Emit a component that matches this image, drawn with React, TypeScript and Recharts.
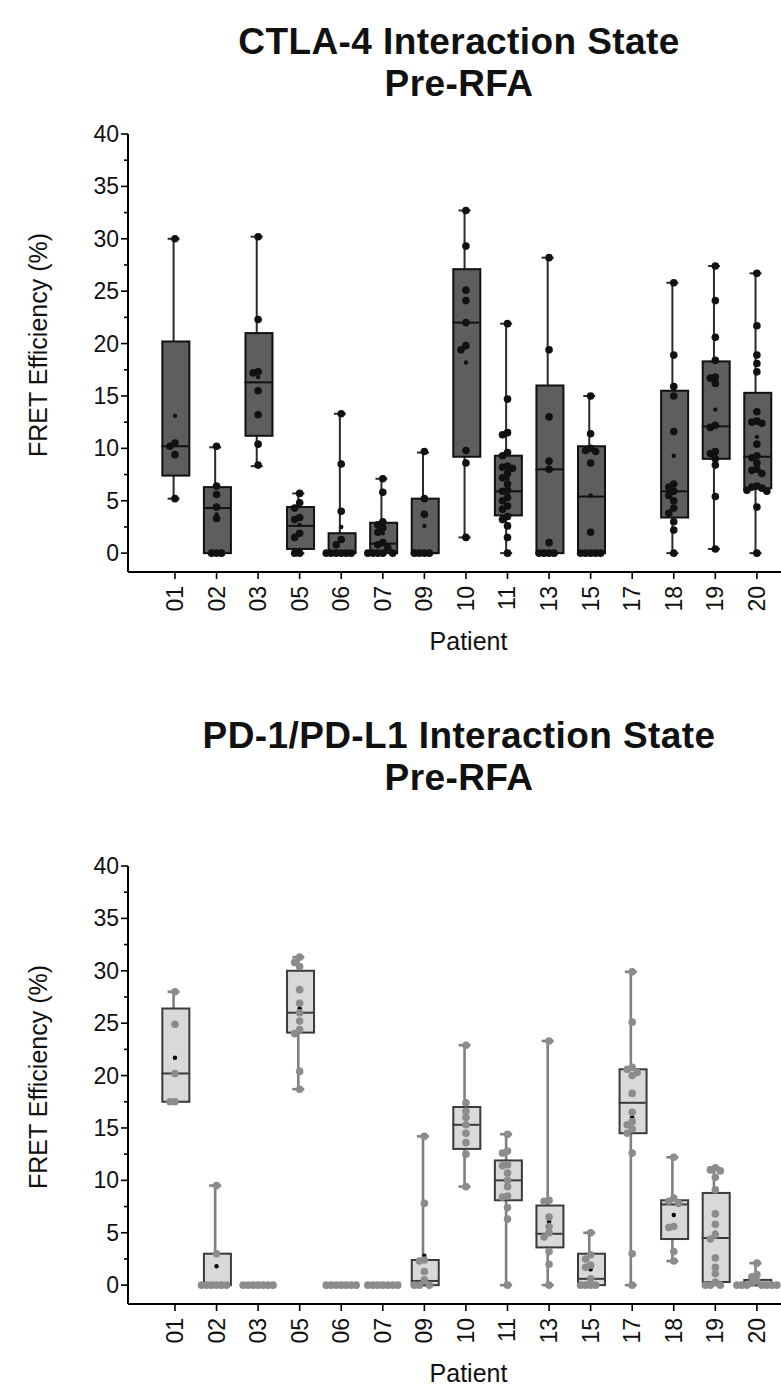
import { Bar, ComposedChart, Scatter, XAxis, YAxis } from 'recharts'

const patients = ['01', '02', '03', '05', '06', '07', '09', '10', '11', '13', '15', '17', '18', '19', '20']

// CTLA-4, pre-RFA (top panel)
const ctlaMin = [5.2, 0, 8.3, 0, 0, 0, 0, 1.5, 0, 0, 0, null, 0, 0.4, 0]
const ctlaQ1 = [7.4, 0, 11.2, 0.4, 0, 0, 0, 9.2, 3.6, 0, 0, null, 3.4, 9.0, 6.2]
const ctlaMedian = [10.2, 4.3, 16.3, 2.6, 0, 0.9, 0, 22.0, 5.9, 8.0, 5.4, null, 5.9, 12.1, 9.2]
const ctlaQ3 = [20.2, 6.3, 21.0, 4.4, 1.9, 2.9, 5.2, 27.1, 9.3, 16.0, 10.2, null, 15.5, 18.3, 15.3]
const ctlaMax = [30.0, 10.1, 30.2, 5.7, 13.3, 7.1, 9.6, 32.7, 21.9, 28.2, 15.0, null, 25.8, 27.4, 26.7]
const ctlaMean = [13.1, 3.7, 16.8, 2.7, 2.5, 1.9, 2.6, 18.2, 7.1, 8.6, 5.5, null, 9.3, 13.7, 11.1]
const ctlaPoints = [
  [30.0, 10.5, 10.2, 9.4, 5.2],
  [10.2, 6.4, 5.6, 4.4, 3.3, 0, 0, 0],
  [30.2, 22.3, 17.3, 17.2, 15.5, 13.2, 10.4, 8.4],
  [5.7, 4.8, 4.3, 3.4, 3.2, 1.9, 1.5, 0, 0],
  [13.3, 8.5, 4.0, 1.3, 0.8, 0, 0, 0, 0, 0, 0],
  [7.1, 5.8, 3.0, 2.7, 2.4, 2.0, 1.0, 0.8, 0.5, 0, 0, 0, 0, 0],
  [9.7, 5.2, 3.7, 0, 0, 0, 0],
  [32.7, 29.3, 25.1, 24.1, 22.0, 19.8, 19.4, 9.8, 8.6, 1.5],
  [21.9, 14.7, 11.5, 11.3, 9.6, 9.3, 8.3, 8.2, 8.1, 7.6, 7.2, 6.6, 6.0, 5.9, 5.3, 5.0, 4.5, 4.2, 3.5, 3.2, 2.6, 1.5, 0],
  [28.2, 19.4, 13.0, 8.8, 8.0, 1.0, 0, 0, 0, 0],
  [15.0, 11.4, 10.0, 9.8, 9.7, 8.6, 2.0, 0, 0, 0, 0, 0],
  [],
  [25.8, 18.9, 15.9, 15.0, 11.6, 6.6, 6.3, 5.9, 5.5, 5.0, 4.3, 3.8, 3.0, 2.2, 0],
  [27.4, 24.1, 20.6, 18.4, 16.8, 16.7, 16.2, 12.2, 12.0, 9.7, 9.5, 9.0, 8.4, 5.4, 0.4],
  [26.7, 21.7, 18.9, 18.1, 17.3, 13.5, 12.6, 12.5, 12.4, 10.4, 9.3, 9.1, 8.6, 8.0, 7.9, 7.6, 6.4, 6.3, 6.2, 6.0, 5.9, 4.4, 0],
]

// PD-1/PD-L1, pre-RFA (bottom panel)
const pdMin = [17.5, 0, 0, 18.7, 0, 0, 0, 9.4, 0, 0, 0, 0, 2.3, 0, 0]
const pdQ1 = [17.5, 0, 0, 24.1, 0, 0, 0, 13.0, 8.1, 3.6, 0, 14.5, 4.4, 0.3, 0]
const pdMedian = [20.2, 0, 0, 26.0, 0, 0, 0.4, 15.3, 10.0, 4.9, 0.6, 17.4, 7.7, 4.5, 0.2]
const pdQ3 = [26.4, 3.0, 0, 30.0, 0, 0, 2.4, 17.0, 11.9, 7.6, 3.0, 20.6, 8.1, 8.8, 0.5]
const pdMax = [28.0, 9.5, 0, 31.3, 0, 0, 14.2, 22.9, 14.4, 23.3, 5.0, 29.9, 12.2, 11.2, 2.1]
const pdMean = [21.7, 1.8, 0, 26.4, 0, 0, 2.8, 15.3, 9.3, 6.1, 1.5, 16.0, 6.7, 5.0, 0.5]
const pdPoints = [
  [28.0, 24.9, 20.2, 17.5, 17.5],
  [9.5, 3.0, 0, 0, 0, 0, 0, 0],
  [0, 0, 0, 0, 0, 0, 0],
  [31.3, 30.8, 30.4, 28.2, 26.9, 26.0, 25.2, 24.4, 24.0, 20.4, 18.7],
  [0, 0, 0, 0, 0, 0, 0],
  [0, 0, 0, 0, 0, 0, 0],
  [14.2, 7.8, 2.4, 2.3, 1.3, 0.5, 0, 0, 0],
  [22.9, 17.4, 16.6, 16.0, 15.3, 14.5, 13.6, 12.5, 9.4],
  [14.4, 12.8, 12.6, 11.5, 11.4, 10.7, 10.0, 9.4, 8.5, 8.4, 7.4, 6.3, 0],
  [23.3, 8.1, 8.0, 6.5, 5.6, 5.0, 4.6, 3.2, 2.0, 0],
  [5.0, 2.9, 2.5, 1.9, 1.7, 0.6, 0, 0, 0, 0],
  [29.9, 25.1, 20.8, 20.6, 20.3, 20.0, 18.3, 16.5, 15.6, 15.3, 14.9, 14.5, 12.6, 3.0, 0],
  [12.2, 8.3, 8.0, 7.8, 5.6, 5.5, 3.2, 2.3],
  [11.2, 11.0, 10.9, 10.3, 9.1, 6.8, 5.8, 4.8, 4.4, 2.6, 1.7, 1.1, 0.3, 0, 0, 0],
  [2.1, 1.0, 0.8, 0.4, 0.2, 0, 0, 0, 0, 0, 0, 0],
]

const yTicks = Array.from({ length: 17 }, (_, i) => i * 2.5)
const xTicks = patients.map((_, i) => i)

const FONT = '"Liberation Sans", Arial, sans-serif'
const BOX_W = 27

type Theme = {
  boxFill: string
  boxStroke: string
  whisker: string
  whiskerWidth: number
  point: string
  mean: string
}

const darkTheme: Theme = { boxFill: '#5e5e5e', boxStroke: '#111', whisker: '#2a2a2a', whiskerWidth: 2, point: '#111', mean: '#111' }
const lightTheme: Theme = { boxFill: '#d9d9d9', boxStroke: '#3a3a3a', whisker: '#808080', whiskerWidth: 2.6, point: '#8c8c8c', mean: '#000' }

// simple beeswarm: same-ish values get pushed sideways
function swarm(values: number[], idx: number) {
  const step = 0.12
  const placed: { x: number; y: number }[] = []
  const sorted = [...values].sort((a, b) => b - a)
  for (const v of sorted) {
    let done = false
    for (let k = 0; k < 14 && !done; k++) {
      const off = (k % 2 === 1 ? -1 : 1) * Math.ceil(k / 2) * step
      const hit = placed.some((p) => Math.abs(p.x - (idx + off)) < step * 0.95 && Math.abs(p.y - v) < 0.55)
      if (!hit) {
        placed.push({ x: idx + off, y: v })
        done = true
      }
    }
    if (!done) placed.push({ x: idx, y: v })
  }
  return placed
}

function YTick(props: any) {
  const { x, y, payload } = props
  const v = payload.value as number
  const major = v % 5 === 0
  return (
    <g>
      <line x1={x - (major ? 7 : 4)} x2={x} y1={y} y2={y} stroke="#000" strokeWidth={1.6} />
      {major && (
        <text x={x - 9} y={y} textAnchor="end" dominantBaseline="central" fontSize={23} fontFamily={FONT} fill="#111">
          {v}
        </text>
      )}
    </g>
  )
}

function XTick(props: any) {
  const { x, y, payload } = props
  const ty = y + 14
  return (
    <g>
      <line x1={x} x2={x} y1={y} y2={y + 7} stroke="#000" strokeWidth={1.6} />
      <text
        x={x}
        y={ty}
        transform={`rotate(-90 ${x} ${ty})`}
        textAnchor="end"
        dominantBaseline="central"
        fontSize={23}
        fontFamily={FONT}
        fill="#111"
      >
        {patients[payload.value]}
      </text>
    </g>
  )
}

type PanelProps = {
  mins: (number | null)[]
  q1s: (number | null)[]
  medians: (number | null)[]
  q3s: (number | null)[]
  maxs: (number | null)[]
  means: (number | null)[]
  points: number[][]
  theme: Theme
}

function BoxPanel({ mins, q1s, medians, q3s, maxs, means, points, theme }: PanelProps) {
  const rows = patients.map((_, i) => ({
    x: i,
    whisker: mins[i] == null ? null : [mins[i], maxs[i]],
    box: q1s[i] == null ? null : [q1s[i], q3s[i]],
  }))
  const medianRows = patients.map((_, i) => ({ x: i, y: medians[i] })).filter((r) => r.y != null)
  const meanRows = patients.map((_, i) => ({ x: i, y: means[i] })).filter((r) => r.y != null)
  const pointRows = points.flatMap((vals, i) => swarm(vals, i))

  const Whisker = (p: any) => {
    if (p.x == null || !p.height || p.height < 0.5) return null
    const cx = p.x + p.width / 2
    return (
      <g stroke={theme.whisker} strokeWidth={theme.whiskerWidth}>
        <line x1={cx} x2={cx} y1={p.y} y2={p.y + p.height} />
        <line x1={cx - 6} x2={cx + 6} y1={p.y} y2={p.y} />
        <line x1={cx - 6} x2={cx + 6} y1={p.y + p.height} y2={p.y + p.height} />
      </g>
    )
  }
  const Box = (p: any) => {
    if (p.x == null || !p.height || p.height < 0.5) return null
    const cx = p.x + p.width / 2
    return (
      <rect
        x={cx - BOX_W / 2}
        y={p.y}
        width={BOX_W}
        height={p.height}
        fill={theme.boxFill}
        stroke={theme.boxStroke}
        strokeWidth={2}
      />
    )
  }

  return (
    <ComposedChart
      width={781}
      height={680}
      data={rows}
      margin={{ top: 134, right: 0, bottom: 0, left: 0 }}
      barGap={-BOX_W}
    >
      <XAxis
        type="number"
        dataKey="x"
        domain={[-1.13, 14.58]}
        ticks={xTicks}
        interval={0}
        allowDataOverflow
        height={108}
        tickSize={0}
        tickMargin={0}
        tick={<XTick />}
        axisLine={{ stroke: '#000', strokeWidth: 2 }}
        tickLine={false}
        label={{ value: 'Patient', position: 'insideBottom', offset: 30, dx: 14, fontSize: 25, fontFamily: FONT, fill: '#111' }}
      />
      <YAxis
        type="number"
        domain={[-1.8, 40]}
        ticks={yTicks}
        interval={0}
        allowDataOverflow
        width={128}
        tickSize={0}
        tickMargin={0}
        tick={<YTick />}
        axisLine={{ stroke: '#000', strokeWidth: 2 }}
        tickLine={false}
        label={{
          value: 'FRET  Efficiency (%)',
          angle: -90,
          position: 'insideLeft',
          offset: 38,
          dy: -8,
          fontSize: 25,
          fontFamily: FONT,
          fill: '#111',
          style: { textAnchor: 'middle', whiteSpace: 'pre' },
        }}
      />
      <Bar dataKey="whisker" barSize={BOX_W} shape={Whisker} isAnimationActive={false} />
      <Bar dataKey="box" barSize={BOX_W} shape={Box} isAnimationActive={false} />
      <Scatter
        data={medianRows}
        dataKey="y"
        isAnimationActive={false}
        shape={(p: any) => (
          <line x1={p.cx - BOX_W / 2} x2={p.cx + BOX_W / 2} y1={p.cy} y2={p.cy} stroke={theme.boxStroke} strokeWidth={2} />
        )}
      />
      <Scatter
        data={meanRows}
        dataKey="y"
        isAnimationActive={false}
        shape={(p: any) => <circle cx={p.cx} cy={p.cy} r={2.2} fill={theme.mean} />}
      />
      <Scatter
        data={pointRows}
        dataKey="y"
        isAnimationActive={false}
        shape={(p: any) => <circle cx={p.cx} cy={p.cy} r={3.8} fill={theme.point} />}
      />
    </ComposedChart>
  )
}

const titleStyle = {
  position: 'absolute' as const,
  left: 0,
  width: 918,
  textAlign: 'center' as const,
  fontFamily: FONT,
  fontWeight: 700,
  fontSize: 37,
  lineHeight: '42px',
  letterSpacing: '0.4px',
  color: '#111',
}

export default function App() {
  return (
    <div style={{ position: 'absolute', left: 0, top: 0, width: 781, height: 1400, background: '#fff', overflow: 'hidden' }}>
      <div style={{ ...titleStyle, top: 21 }}>
        CTLA-4 Interaction State
        <br />
        Pre-RFA
      </div>
      <div style={{ position: 'absolute', left: 0, top: 0 }}>
        <BoxPanel
          mins={ctlaMin}
          q1s={ctlaQ1}
          medians={ctlaMedian}
          q3s={ctlaQ3}
          maxs={ctlaMax}
          means={ctlaMean}
          points={ctlaPoints}
          theme={darkTheme}
        />
      </div>
      <div style={{ ...titleStyle, top: 715 }}>
        PD-1/PD-L1 Interaction State
        <br />
        Pre-RFA
      </div>
      <div style={{ position: 'absolute', left: 0, top: 732 }}>
        <BoxPanel
          mins={pdMin}
          q1s={pdQ1}
          medians={pdMedian}
          q3s={pdQ3}
          maxs={pdMax}
          means={pdMean}
          points={pdPoints}
          theme={lightTheme}
        />
      </div>
    </div>
  )
}
